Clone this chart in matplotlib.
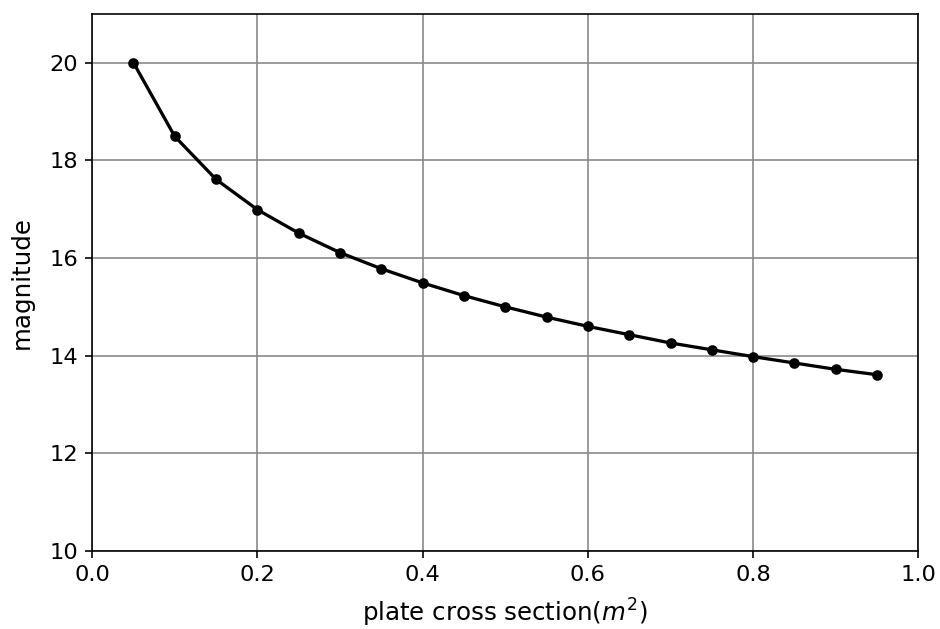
import numpy as np
import matplotlib
matplotlib.use('Agg')
import matplotlib.pyplot as plt

# cross section of the plate (m^2) and the resulting magnitude
section = [0.05, 0.10, 0.15, 0.20, 0.25, 0.30, 0.35, 0.40, 0.45, 0.50,
           0.55, 0.60, 0.65, 0.70, 0.75, 0.80, 0.85, 0.90, 0.95]
magnitude = [20.0, 18.49, 17.61, 16.99, 16.51, 16.11, 15.78, 15.49, 15.23, 15.0,
             14.79, 14.6, 14.43, 14.26, 14.12, 13.98, 13.85, 13.72, 13.61]

fig = plt.figure(figsize=(940 / 147, 629 / 147), dpi=147)
ax = fig.add_axes([0.098, 0.124, 0.879, 0.854])
ax.plot(section, magnitude, color='black', marker='o', markersize=4.2, linewidth=1.6)
ax.set_xlim(0.0, 1.0)
ax.set_ylim(10, 21)
ax.set_yticks([10, 12, 14, 16, 18, 20])
ax.tick_params(labelsize=11)
ax.grid(True, color='#888888', linewidth=0.8)
ax.set_xlabel('plate cross section($m^2$)', fontsize=12, labelpad=5.5)
ax.set_ylabel('magnitude', fontsize=12, labelpad=7.5)
fig.savefig('out.png', dpi=147)
